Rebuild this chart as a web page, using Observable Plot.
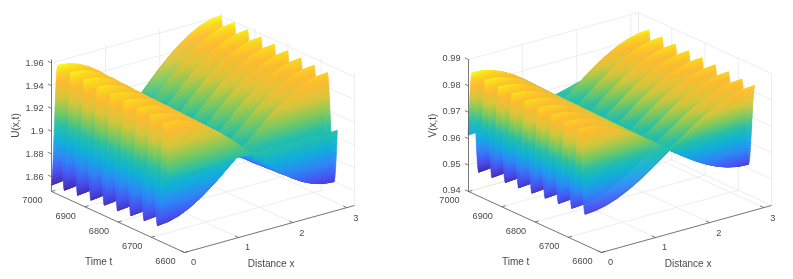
<!DOCTYPE html>
<html><head><meta charset="utf-8">
<style>html,body{margin:0;padding:0;background:#fff}#w{display:flex;width:793px;height:279px}svg{display:block;filter:blur(.25px)}</style>
<script src="https://cdn.jsdelivr.net/npm/d3@7"></script>
<script src="https://cdn.jsdelivr.net/npm/@observablehq/plot@0.6"></script>
</head><body><div id="w"></div>
<script>
// Distance samples and cross-section read from the surface (high at one end, low at the other)
const xSamples=[0,.196,.393,.589,.785,.982,1.178,1.374,1.571,1.767,1.963,2.16,2.356,2.553,2.749,2.945,3.142];
const xProfile=[1,.981,.924,.831,.707,.556,.383,.195,0,-.195,-.383,-.556,-.707,-.831,-.924,-.981,-1];
// Rising quarter of one time oscillation: time after the mid level, and relative level reached
const quarterTime=[0,.254,.51,.766,1.023,1.282,1.543,1.807,2.073,2.344,2.62,2.9,3.188,3.481,3.784,4.097,4.421,4.76,5.117,5.496,5.903,6.349,6.849,7.437,8.193,8.724,9.099,9.6,10];
const quarterLevel=[0,.04,.08,.12,.16,.2,.24,.28,.32,.36,.4,.44,.48,.52,.56,.6,.64,.68,.72,.76,.8,.84,.88,.92,.96,.98,.99,.998,1];
// Swing of each oscillation, earliest first
const ampU=[.0465,.0475,.0485,.0495,.05,.051,.052,.053,.054];
const ampV=[.0155,.0155,.016,.0163,.0167,.017,.0173,.0177,.018,.0185];
const xTicks=[0,1,2,3];
const tTicks=[6600,6700,6800,6900,7000];
const zTicksU=[1.86,1.88,1.9,1.92,1.94,1.96];
const zLabelsU=["1.86","1.88","1.9","1.92","1.94","1.96"];
const zTicksV=[.94,.95,.96,.97,.98,.99];
const zLabelsV=["0.94","0.95","0.96","0.97","0.98","0.99"];
const colorAt=[0,.12,.25,.38,.5,.62,.74,.87,.95,1];
const parula=["#3e26a8","#4850f0","#2c88f6","#0fb0d8","#25bfa8","#7cc95e","#d6c63a","#feba30","#f9d81e","#f9fb14"];
const period=40,xMax=Math.PI;

const n=quarterTime.length;
const cycle=[];
for(let i=0;i<n;i++)cycle.push([quarterTime[i],quarterLevel[i]]);
for(let i=n-2;i>=0;i--)cycle.push([period/2-quarterTime[i],quarterLevel[i]]);
for(let i=1;i<n;i++)cycle.push([period/2+quarterTime[i],-quarterLevel[i]]);
for(let i=n-2;i>=1;i--)cycle.push([period-quarterTime[i],-quarterLevel[i]]);
const ramp=d3.scaleLinear(colorAt,parula);

function panel(o){
  const px=(x,t)=>o.ox+x/xMax*170+(7000-t)/400*133;
  const py=(x,t,z)=>191-x/xMax*47+(7000-t)/400*61-(z-o.zMin)/(o.zMax-o.zMin)*132;
  const samples=[];
  o.amp.forEach((a,k)=>{for(const [tau,l] of cycle){const T=tau+k*period;if(T>=o.tau0&&T<=o.tau1)samples.push([o.tStart+T-o.tau0,l*a]);}});
  const rows=[],strips=[];
  for(let i=samples.length-2;i>=0;i--){
    const [t0,a0]=samples[i],[t1,a1]=samples[i+1];
    const q=strips.length;strips.push({t:(t0+t1)/2,a:(a0+a1)/2});
    for(let j=xSamples.length-1;j>=0;j--){
      const x=xSamples[j],p=xProfile[j];
      rows.push({q,v:o.mid+(a0+a1)/2,x1:px(x,t0),y1:py(x,t0,o.mid+a0*p),x2:px(x,t1),y2:py(x,t1,o.mid+a1*p)});
    }
  }
  const seg=(a,b)=>({x1:px(a[0],a[1]),y1:py(...a),x2:px(b[0],b[1]),y2:py(...b)});
  const zb=o.zMin,zt=o.zMax,grid=[];
  for(const x of xTicks){grid.push(seg([x,6600,zb],[x,7000,zb]),seg([x,7000,zb],[x,7000,zt]));}
  for(const t of tTicks){grid.push(seg([0,t,zb],[xMax,t,zb]),seg([xMax,t,zb],[xMax,t,zt]));}
  for(const z of o.zTicks){grid.push(seg([0,7000,z],[xMax,7000,z]),seg([xMax,7000,z],[xMax,6600,z]));}
  grid.push(seg([xMax,7000,zb],[xMax,7000,zt]));
  const axes=[seg([0,7000,zb],[0,6600,zb]),seg([0,6600,zb],[xMax,6600,zb]),seg([0,7000,zb],[0,7000,zt])];
  for(const x of xTicks)axes.push(seg([x,6600,zb],[x,6611,zb]));
  for(const t of tTicks)axes.push(seg([0,t,zb],[.07,t,zb]));
  for(const z of o.zTicks)axes.push(seg([0,7000,z],[0,7011,z]));
  const font="Liberation Sans",ink="#4a4a4a";
  const shade=(idx,s,v,d,c,next)=>{
    const g=next(idx,s,v,d,c);
    const NS="http://www.w3.org/2000/svg";
    const defs=document.createElementNS(NS,"defs");
    g.querySelectorAll("path").forEach(path=>{
      const I=path.__data__,q=rows[I[0]].q,st=strips[q],id=`${o.id}${q}`;
      const lg=document.createElementNS(NS,"linearGradient");
      lg.setAttribute("id",id);lg.setAttribute("gradientUnits","userSpaceOnUse");
      lg.setAttribute("x1",px(0,st.t));lg.setAttribute("x2",px(xMax,st.t));lg.setAttribute("y1",0);lg.setAttribute("y2",0);
      xSamples.forEach((x,j)=>{
        const e=document.createElementNS(NS,"stop");
        e.setAttribute("offset",x/xMax);e.setAttribute("stop-color",s.color(o.mid+st.a*xProfile[j]));lg.append(e);
      });
      defs.append(lg);
      path.setAttribute("fill",`url(#${id})`);path.setAttribute("stroke",`url(#${id})`);path.setAttribute("stroke-width",.5);
    });
    g.prepend(defs);g.style.filter="blur(0.45px)";
    return g;
  };
  return Plot.plot({
    width:o.width,height:279,marginTop:0,marginRight:0,marginBottom:0,marginLeft:0,
    x:{domain:[0,o.width],range:[0,o.width],axis:null},
    y:{domain:[0,279],range:[0,279],axis:null},
    color:{type:"linear",domain:[o.cLo,o.cHi],interpolate:t=>ramp(t)},
    style:{fontFamily:font,background:"#fff"},
    marks:[
      Plot.link(grid,{x1:"x1",y1:"y1",x2:"x2",y2:"y2",stroke:"#e8e8e8",strokeWidth:.8}),
      Plot.area(rows,{x1:"x1",y1:"y1",x2:"x2",y2:"y2",z:"q",fill:"v",render:shade}),
      Plot.link(axes,{x1:"x1",y1:"y1",x2:"x2",y2:"y2",stroke:"#5a5a5a",strokeWidth:.8}),
      Plot.text(o.zTicks,{x:()=>px(0,7000),y:z=>py(0,7000,z),text:(z,i)=>o.zLabels[i],textAnchor:"end",dx:-8,dy:o.zdy,fontSize:9.2,fill:ink}),
      Plot.text(tTicks,{x:t=>px(0,t),y:t=>py(0,t,zb),text:t=>String(t),dx:-19,dy:9,fontSize:9.2,fill:ink}),
      Plot.text(xTicks,{x:x=>px(x,6600),y:x=>py(x,6600,zb),text:x=>String(x),dx:9,dy:10,fontSize:9.2,fill:ink}),
      Plot.text(["Time t"],{x:()=>px(0,6750),y:()=>py(0,6750,zb),text:d=>d,dx:-36,dy:32,fontSize:10,fill:ink}),
      Plot.text(["Distance x"],{x:()=>px(1.6,6600),y:()=>py(1.6,6600,zb),text:d=>d,dx:0,dy:35,fontSize:10,fill:ink}),
      Plot.text([o.label],{x:()=>px(0,7000),y:()=>py(0,7000,(zb+zt)/2),text:d=>d,rotate:-90,dx:-36,fontSize:10,fill:ink})
    ]
  });
}
const w=document.getElementById("w");
w.append(panel({id:"u",width:397,ox:51,zMin:1.847,zMax:1.963,zTicks:zTicksU,zLabels:zLabelsU,label:"U(x,t)",mid:1.906,amp:ampU,tStart:6650,tau0:0,tau1:350,cLo:1.852,cHi:1.96,zdy:0}));
w.append(panel({id:"v",width:396,ox:71,zMin:.94,zMax:.99,zTicks:zTicksV,zLabels:zLabelsV,label:"V(x,t)",mid:.967,amp:ampV,tStart:6647.93,tau0:30,tau1:382.073,cLo:.9485,cHi:.9855,zdy:-1}));
</script></body></html>
